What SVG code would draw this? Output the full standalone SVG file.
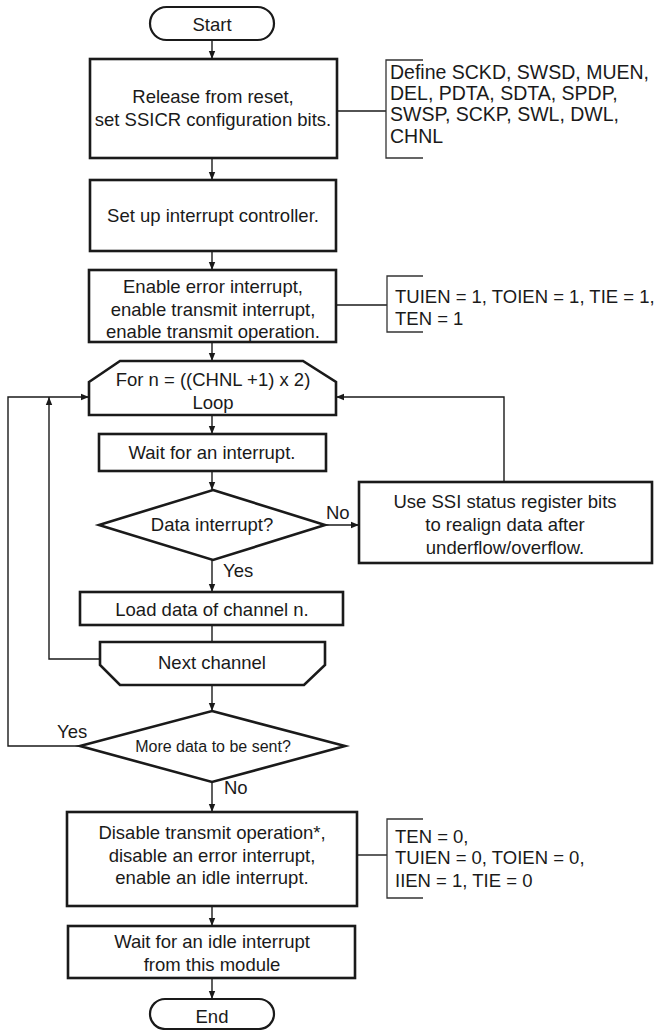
<svg xmlns="http://www.w3.org/2000/svg" width="657" height="1030" viewBox="0 0 657 1030">
<defs>
<marker id="ah" markerWidth="8" markerHeight="8" viewBox="0 0 8 8" refX="8" refY="4" orient="auto" markerUnits="userSpaceOnUse">
<path d="M0,0.8 L8,4 L0,7.2 Z" fill="#1a1a1a"/>
</marker>
<style>
.box{fill:#fff;stroke:#1a1a1a;stroke-width:2.6}
.term{fill:#fff;stroke:#1a1a1a;stroke-width:2.2}
.br{fill:none;stroke:#333;stroke-width:1.3}
.ln{fill:none;stroke:#1a1a1a;stroke-width:1.4}
.arr{fill:none;stroke:#1a1a1a;stroke-width:1.4;marker-end:url(#ah)}
text{font-family:"Liberation Sans",Arial,sans-serif;font-size:18.5px;fill:#1a1a1a}
.c{text-anchor:middle}
.s{font-size:16px}
.d{font-size:19.5px}
</style>
</defs>
<rect width="657" height="1030" fill="#fff"/>

<g id="connectors">
<path class="arr" d="M212,40 V59"/>
<path class="arr" d="M212,158 V180"/>
<path class="arr" d="M212,251 V270"/>
<path class="arr" d="M212,342 V361"/>
<path class="arr" d="M212,415 V434"/>
<path class="arr" d="M212,471 V490"/>
<path class="arr" d="M212,560 V592"/>
<path class="arr" d="M325,525 H359"/>
<path class="arr" d="M504,482 V397 H336"/>
<path class="ln" d="M212,625 V642"/>
<path class="arr" d="M100,659 H49 V397"/>
<path class="arr" d="M212,685 V711"/>
<path class="arr" d="M80,746 H8 V397 H89"/>
<path class="arr" d="M212,782 V812"/>
<path class="arr" d="M212,906 V926"/>
<path class="arr" d="M212,978 V999"/>
<path class="ln" d="M337,111 H386"/>
<path class="ln" d="M336,305 H387"/>
<path class="ln" d="M357,855 H387"/>
</g>

<g id="start">
<rect class="term" x="150" y="7" width="124" height="33" rx="16.5"/>
<text class="c" x="212" y="31">Start</text>
</g>

<g id="release">
<rect class="box" x="90" y="59" width="247" height="99"/>
<text class="c" x="213" y="103">Release from reset,</text>
<text class="c" x="213" y="126">set SSICR configuration bits.</text>
</g>

<g id="note-define">
<path class="br" d="M423,60 H386 V158 H423"/>
<text class="d" x="390" y="79">Define SCKD, SWSD, MUEN,</text>
<text class="d" x="390" y="100">DEL, PDTA, SDTA, SPDP,</text>
<text class="d" x="390" y="121">SWSP, SCKP, SWL, DWL,</text>
<text class="d" x="390" y="143">CHNL</text>
</g>

<g id="setup-intc">
<rect class="box" x="90" y="180" width="246" height="71"/>
<text class="c" x="213" y="222">Set up interrupt controller.</text>
</g>

<g id="enable">
<rect class="box" x="89" y="270" width="247" height="72"/>
<text class="c" x="213" y="293">Enable error interrupt,</text>
<text class="c" x="213" y="316">enable transmit interrupt,</text>
<text class="c" x="213" y="338">enable transmit operation.</text>
</g>

<g id="note-enable">
<path class="br" d="M423,276 H387 V332 H423"/>
<text x="395" y="303">TUIEN = 1, TOIEN = 1, TIE = 1,</text>
<text x="395" y="325">TEN = 1</text>
</g>

<g id="loop-start">
<path class="box" d="M89,382 L120,361 H303 L336,382 V415 H89 Z"/>
<text class="c" x="213" y="386">For n = ((CHNL +1) x 2)</text>
<text class="c" x="213" y="409">Loop</text>
</g>

<g id="wait-int">
<rect class="box" x="99" y="434" width="227" height="37"/>
<text class="c" x="212" y="459">Wait for an interrupt.</text>
</g>

<g id="data-int">
<path class="box" d="M213,490 L325,525 L213,560 L99,525 Z"/>
<text class="c" x="212" y="531">Data interrupt?</text>
<text x="326" y="519">No</text>
<text x="223" y="577">Yes</text>
</g>

<g id="realign">
<rect class="box" x="359" y="482" width="293" height="81"/>
<text class="c" x="505" y="508">Use SSI status register bits</text>
<text class="c" x="505" y="531">to realign data after</text>
<text class="c" x="505" y="554">underflow/overflow.</text>
</g>

<g id="load">
<rect class="box" x="80" y="592" width="263" height="33"/>
<text class="c" x="212" y="616">Load data of channel n.</text>
</g>

<g id="next-channel">
<path class="box" d="M100,642 H325 V665 L304,685 H120 L100,665 Z"/>
<text class="c" x="212" y="669">Next channel</text>
</g>

<g id="more-data">
<path class="box" d="M212,711 L345,746 L212,782 L80,746 Z"/>
<text class="c s" x="213" y="752">More data to be sent?</text>
<text x="57" y="738">Yes</text>
<text x="224" y="794">No</text>
</g>

<g id="disable">
<rect class="box" x="67" y="812" width="290" height="94"/>
<text class="c" x="212" y="839">Disable transmit operation*,</text>
<text class="c" x="212" y="862">disable an error interrupt,</text>
<text class="c" x="212" y="884">enable an idle interrupt.</text>
</g>

<g id="note-disable">
<path class="br" d="M423,819 H387 V898 H423"/>
<text x="395" y="843">TEN = 0,</text>
<text x="395" y="864">TUIEN = 0, TOIEN = 0,</text>
<text x="395" y="887">IIEN = 1, TIE = 0</text>
</g>

<g id="wait-idle">
<rect class="box" x="68" y="926" width="287" height="52"/>
<text class="c" x="212" y="948">Wait for an idle interrupt</text>
<text class="c" x="212" y="971">from this module</text>
</g>

<g id="end">
<rect class="term" x="150" y="999" width="124" height="30" rx="15"/>
<text class="c" x="212" y="1023">End</text>
</g>
</svg>
